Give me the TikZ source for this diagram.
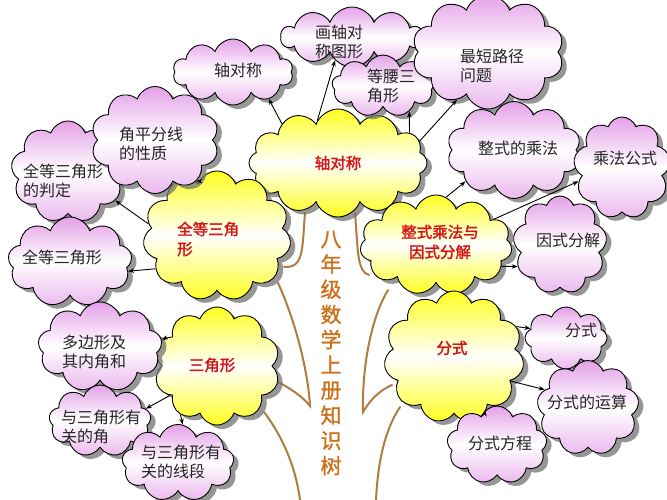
\documentclass[tikz,border=0pt]{standalone}
\usepackage{fontspec}
\newfontfamily\cjk{Noto Sans CJK SC}
\newfontfamily\cjkb{Noto Sans CJK SC}[FakeBold=2]
\newfontfamily\cjkm{Noto Sans CJK SC}[FakeBold=1]
\usetikzlibrary{shapes.symbols,shadows,arrows.meta}
\definecolor{yelc}{RGB}{255,255,30}
\definecolor{pinkc}{RGB}{228,160,232}
\definecolor{trunkc}{RGB}{176,124,66}
\definecolor{titlec}{RGB}{205,112,24}
\definecolor{redc}{RGB}{215,20,20}
\begin{document}
\begin{tikzpicture}[x=1pt,y=-1pt,
  cloudbase/.style={cloud, cloud ignores aspect, cloud puff arc=140, draw=black, line width=0.9pt, inner sep=0pt,
    drop shadow={shadow xshift=5pt, shadow yshift=-4pt, fill=black!55, opacity=.75}},
  ycloud/.style={cloudbase, cloud puffs=#1, top color=yelc, bottom color=yelc, middle color=white},
  pcloud/.style={cloudbase, cloud puffs=#1, top color=pinkc, bottom color=pinkc!75, middle color=white},
  ptext/.style={font=\cjk\fontsize{16}{19}\selectfont, text=black!85, align=left, inner sep=0pt},
  ctext/.style={ptext, align=center},
  rtext/.style={font=\cjkb\fontsize{15.5}{20}\selectfont, text=redc, align=left, inner sep=0pt},
  arr/.style={line width=0.9pt, -{Stealth[length=6pt,width=4.5pt]}},
  trunk/.style={draw=trunkc, line width=2pt, line cap=round}
]
\useasboundingbox (0,0) rectangle (667,500);
\fill[white] (0,0) rectangle (667,500);

% tree trunk
\draw[trunk] (305,213) .. controls (302,250) and (304,268) .. (284,267);
\draw[trunk] (278,283) .. controls (295,320) and (308,370) .. (310,406) .. controls (302,396) and (290,388) .. (276,381);
\draw[trunk] (264,412) .. controls (285,440) and (296,470) .. (300,500);
\draw[trunk] (355,213) .. controls (358,250) and (357,272) .. (369,275);
\draw[trunk] (388,290) .. controls (370,320) and (362,370) .. (363,412) .. controls (370,400) and (380,390) .. (392,385);
\draw[trunk] (400,407) .. controls (385,430) and (378,460) .. (376,500);

% title
\node[font=\cjkm\fontsize{21}{25.2}\selectfont, text=titlec, align=center, inner sep=0pt] (title) at (331,353)
  {八\\年\\级\\数\\学\\上\\册\\知\\识\\树};

% yellow clouds
\node[ycloud=12, minimum width=178pt, minimum height=108pt] (y1) at (338,163) {};
\node[ycloud=11, minimum width=148pt, minimum height=130pt] (y2) at (217,236) {};
\node[ycloud=11, minimum width=152pt, minimum height=100pt] (y3) at (436,245) {};
\node[ycloud=10, minimum width=126pt, minimum height=118pt] (y4) at (217,366) {};
\node[ycloud=11, minimum width=140pt, minimum height=132pt] (y5) at (454,357) {};

% pink clouds
\node[pcloud=10, minimum width=120pt, minimum height=66pt] (p1) at (233,72) {};
\node[pcloud=10, minimum width=142pt, minimum height=60pt] (p2) at (352,37) {};
\node[pcloud=9, minimum width=102pt, minimum height=62pt] (p3) at (383,86) {};
\node[pcloud=10, minimum width=152pt, minimum height=114pt] (p4) at (488,52) {};
\node[pcloud=9, minimum width=114pt, minimum height=102pt] (p6) at (68,172) {};
\node[pcloud=10, minimum width=128pt, minimum height=107pt] (p5) at (155,140) {};
\node[pcloud=9, minimum width=124pt, minimum height=90pt] (p7) at (70,262) {};
\node[pcloud=10, minimum width=134pt, minimum height=97pt] (p8) at (514,150) {};
\node[pcloud=9, minimum width=97pt, minimum height=102pt] (p9) at (622,168) {};
\node[pcloud=9, minimum width=94pt, minimum height=98pt] (p10) at (560,245) {};
\node[pcloud=9, minimum width=124pt, minimum height=90pt] (p11) at (100,347) {};
\node[pcloud=9, minimum width=102pt, minimum height=72pt] (p12) at (100,421) {};
\node[pcloud=9, minimum width=112pt, minimum height=77pt] (p13) at (178,463) {};
\node[pcloud=8, minimum width=82pt, minimum height=62pt] (p14) at (566,338) {};
\node[pcloud=9, minimum width=102pt, minimum height=95pt] (p15) at (588,408) {};
\node[pcloud=9, minimum width=100pt, minimum height=78pt] (p16) at (497,445) {};

% texts in yellow clouds
\node[rtext, align=center] (t1) at (338,163) {轴对称};
\node[rtext, anchor=west] (t2) at (177,239) {全等三角\\形};
\node[rtext, align=center] (t3) at (440,242) {整式乘法与\\因式分解};
\node[rtext] (t4) at (212,365) {三角形};
\node[rtext] (t5) at (452,348) {分式};

% texts in pink clouds
\node[ptext] (s1) at (238,70) {轴对称};
\node[ctext] (s2) at (339,42) {画轴对\\称图形};
\node[ptext, anchor=west] (s3) at (367,86) {等腰三\\角形};
\node[ptext, anchor=west] (s4) at (460,66) {最短路径\\问题};
\node[ptext, anchor=west] (s5) at (119,144) {角平分线\\的性质};
\node[ptext, anchor=west] (s6) at (23,181) {全等三角形\\的判定};
\node[ptext] (s7) at (62,257) {全等三角形};
\node[ptext] (s8) at (518,148) {整式的乘法};
\node[ptext] (s9) at (625,158) {乘法公式};
\node[ptext] (s10) at (568,240) {因式分解};
\node[ptext, anchor=west] (s11) at (62,352) {多边形及\\其内角和};
\node[ptext, anchor=west] (s12) at (61,427) {与三角形有\\关的角};
\node[ptext, anchor=west] (s13) at (141,462) {与三角形有\\关的线段};
\node[ptext] (s14) at (581,330) {分式};
\node[ptext] (s15) at (587,402) {分式的运算};
\node[ptext] (s16) at (500,443) {分式方程};

% arrows
\draw[arr] (y1.145.5) -- (p1.-37);
\draw[arr] (y1.116.6) -- (p2.-126);
\draw[arr] (y1.23.7) -- (p3.-44);
\draw[arr] (y1.15.7) -- (p4.-123);
\draw[arr] (y2.108) -- (p5.-45);
\draw[arr] (y2.170) -- (p6.-31.5);
\draw[arr] (y2.208) -- (p7.-9);
\draw[arr] (y3.78) -- (p8.-147);
\draw[arr] (y3.24.6) -- (p9.197);
\draw[arr] (y3.-18.4) -- (p10.207);
\draw[arr] (y4.150) -- (p11.7);
\draw[arr] (y4.212) -- (p12.15.6);
\draw[arr] (y4.233) -- (p13.83.7);
\draw[arr] (y5.26.6) -- (p14.165.5);
\draw[arr] (y5.-23) -- (p15.157.7);
\draw[arr] (y5.-61) -- (p16.109.5);
\end{tikzpicture}
\end{document}
